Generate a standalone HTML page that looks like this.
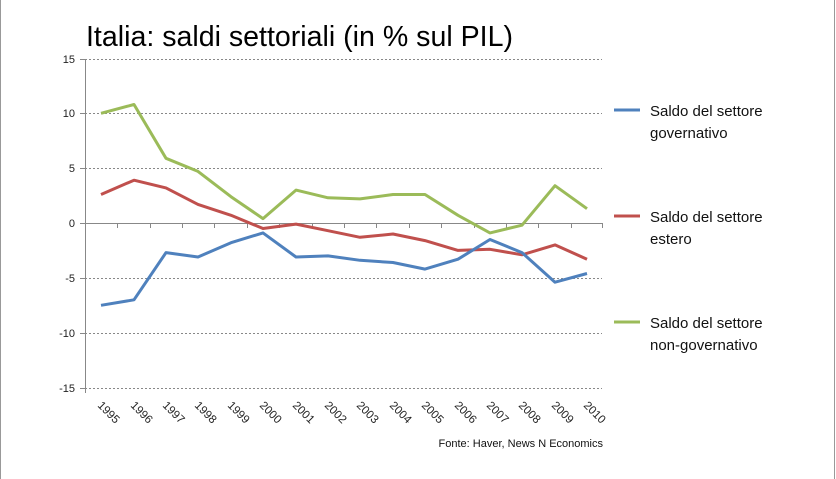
<!DOCTYPE html>
<html><head><meta charset="utf-8"><style>
html,body{margin:0;padding:0;background:#fff;}
svg{display:block;font-family:"Liberation Sans",sans-serif;}
</style></head><body>
<svg width="836" height="479" viewBox="0 0 836 479" xmlns="http://www.w3.org/2000/svg">
<rect x="0" y="0" width="836" height="479" fill="#fff"/>
<line x1="0.5" y1="0" x2="0.5" y2="479" stroke="#999" stroke-width="1"/>
<line x1="834.5" y1="0" x2="834.5" y2="479" stroke="#999" stroke-width="1"/>
<text x="86" y="46" font-size="28.5" fill="#000" textLength="427" lengthAdjust="spacingAndGlyphs">Italia: saldi settoriali (in % sul PIL)</text>
<g stroke="#888" stroke-width="1" stroke-dasharray="2,2">
<line x1="85" y1="59.5" x2="602" y2="59.5"/>
<line x1="85" y1="113.5" x2="602" y2="113.5"/>
<line x1="85" y1="168.5" x2="602" y2="168.5"/>
<line x1="85" y1="278.5" x2="602" y2="278.5"/>
<line x1="85" y1="333.5" x2="602" y2="333.5"/>
<line x1="85" y1="388.5" x2="602" y2="388.5"/>
</g>
<line x1="85.5" y1="59" x2="85.5" y2="393" stroke="#888"/>
<line x1="80" y1="223.5" x2="603" y2="223.5" stroke="#888"/>
<g stroke="#888">
<line x1="80" y1="59.5" x2="85" y2="59.5"/><line x1="80" y1="113.5" x2="85" y2="113.5"/><line x1="80" y1="168.5" x2="85" y2="168.5"/><line x1="80" y1="278.5" x2="85" y2="278.5"/><line x1="80" y1="333.5" x2="85" y2="333.5"/><line x1="80" y1="388.5" x2="85" y2="388.5"/>
<line x1="117.5" y1="223" x2="117.5" y2="228"/><line x1="150.5" y1="223" x2="150.5" y2="228"/><line x1="182.5" y1="223" x2="182.5" y2="228"/><line x1="214.5" y1="223" x2="214.5" y2="228"/><line x1="247.5" y1="223" x2="247.5" y2="228"/><line x1="279.5" y1="223" x2="279.5" y2="228"/><line x1="312.5" y1="223" x2="312.5" y2="228"/><line x1="344.5" y1="223" x2="344.5" y2="228"/><line x1="376.5" y1="223" x2="376.5" y2="228"/><line x1="409.5" y1="223" x2="409.5" y2="228"/><line x1="441.5" y1="223" x2="441.5" y2="228"/><line x1="474.5" y1="223" x2="474.5" y2="228"/><line x1="506.5" y1="223" x2="506.5" y2="228"/><line x1="538.5" y1="223" x2="538.5" y2="228"/><line x1="571.5" y1="223" x2="571.5" y2="228"/><line x1="602.5" y1="223" x2="602.5" y2="228"/>
</g>
<g font-size="11" fill="#222" text-anchor="end">
<text x="75" y="63">15</text><text x="75" y="117">10</text><text x="75" y="172">5</text><text x="75" y="227">0</text><text x="75" y="282">-5</text><text x="75" y="337">-10</text><text x="75" y="392">-15</text>
</g>
<g font-size="11.5" fill="#222">
<text transform="translate(97,406) rotate(45)">1995</text>
<text transform="translate(130,406) rotate(45)">1996</text>
<text transform="translate(162,406) rotate(45)">1997</text>
<text transform="translate(194,406) rotate(45)">1998</text>
<text transform="translate(227,406) rotate(45)">1999</text>
<text transform="translate(259,406) rotate(45)">2000</text>
<text transform="translate(292,406) rotate(45)">2001</text>
<text transform="translate(324,406) rotate(45)">2002</text>
<text transform="translate(356,406) rotate(45)">2003</text>
<text transform="translate(389,406) rotate(45)">2004</text>
<text transform="translate(421,406) rotate(45)">2005</text>
<text transform="translate(454,406) rotate(45)">2006</text>
<text transform="translate(486,406) rotate(45)">2007</text>
<text transform="translate(518,406) rotate(45)">2008</text>
<text transform="translate(551,406) rotate(45)">2009</text>
<text transform="translate(583,406) rotate(45)">2010</text>
</g>
<g fill="none" stroke-width="3" stroke-linejoin="round">
<polyline stroke="#9bbb59" points="101,113.3 134,104.5 166,158.3 198,171.4 231,196.7 263,218.6 296,190.1 328,197.8 360,198.9 393,194.5 425,194.5 458,215.3 490,232.9 522,225.2 555,185.7 587,208.7"/>
<polyline stroke="#c0504d" points="101,194.5 134,180.2 166,187.9 198,204.4 231,215.3 263,228.5 296,224.1 328,230.7 360,237.3 393,234 425,240.6 458,250.4 490,249.3 522,254.8 555,244.9 587,259.2"/>
<polyline stroke="#4f81bd" points="101,305.3 134,299.8 166,252.6 198,257 231,242.7 263,232.9 296,257 328,255.9 360,260.3 393,262.5 425,269.1 458,259.2 490,239.5 522,252.6 555,282.2 587,273.5"/>
</g>
<g stroke-width="3">
<line x1="614" y1="110" x2="640" y2="110" stroke="#4f81bd"/>
<line x1="614" y1="216" x2="640" y2="216" stroke="#c0504d"/>
<line x1="614" y1="322" x2="640" y2="322" stroke="#9bbb59"/>
</g>
<g font-size="15" fill="#111">
<text x="650" y="116">Saldo del settore</text><text x="650" y="138">governativo</text>
<text x="650" y="222">Saldo del settore</text><text x="650" y="244">estero</text>
<text x="650" y="328">Saldo del settore</text><text x="650" y="350">non-governativo</text>
</g>
<text x="603" y="447" font-size="11" fill="#111" text-anchor="end">Fonte: Haver, News N Economics</text>
</svg>
</body></html>
